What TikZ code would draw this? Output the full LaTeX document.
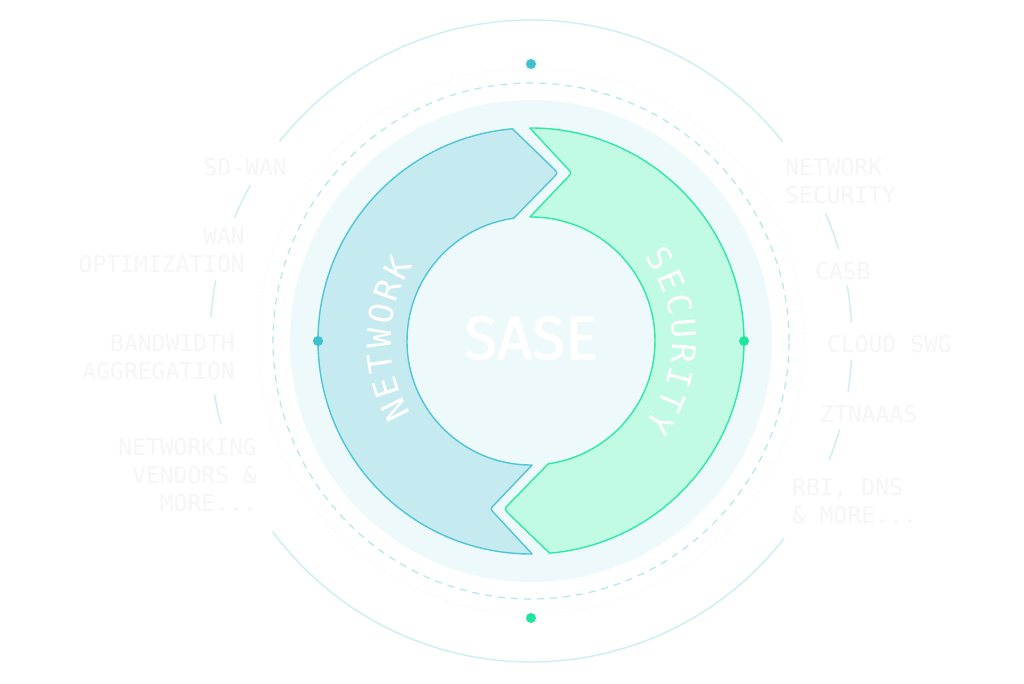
\documentclass[tikz,border=0pt]{standalone}
\usepackage{fontspec}
\newfontfamily\monofont{DejaVu Sans Mono}
\newfontfamily\sasefont[FakeBold=1.6]{Fira Sans}
\usetikzlibrary{calc}

\definecolor{ringline}{HTML}{CBEFF2}
\definecolor{dashline}{HTML}{B4E7EC}
\definecolor{discfill}{HTML}{EDF9FA}
\definecolor{netfill}{HTML}{C5EBF0}
\definecolor{netline}{HTML}{4EC6D6}
\definecolor{secfill}{HTML}{C2FBE4}
\definecolor{secline}{HTML}{2CE9A6}
\definecolor{netdot}{HTML}{3BC1D1}
\definecolor{secdot}{HTML}{1EE69F}
\definecolor{labelgray}{HTML}{F6F6F6}

\begin{document}
\begin{tikzpicture}[x=1pt,y=1pt]
\tikzset{
% text styles: faint side labels and letters on the ring
side label/.style={inner sep=0,text=labelgray,font=\monofont\fontsize{23}{28}\selectfont},
ring letter/.style={inner sep=0,text=white,font=\monofont\fontsize{33}{33}\selectfont},
% small coloured markers
dot node/.style={circle,inner sep=0,minimum size=10},
piece/.style={line width=1.4,line join=round}
}

% canvas
\useasboundingbox (-531,-342) rectangle (493,341);
\fill[white] (-531,-342) rectangle (493,341);

% outer thin circle, broken where the labels sit
\foreach \s/\e in {38.4/141.6,151/157.5,169/175.7,189.6/195,216.4/322,338.3/344,350.9/356.6,363.4/370,376.6/383.4}
  \draw[ringline,line width=1.4] (\s:321) arc[start angle=\s,end angle=\e,radius=321];

% dotted and dashed guide circles
\draw[black!4,line width=1,dash pattern=on 1pt off 3pt] (0,0) circle[radius=273];
\draw[dashline,line width=1.2,dash pattern=on 7pt off 6pt] (0,0) circle[radius=258];

% pale disc behind the ring
\fill[discfill] (0,0) circle[radius=241];

% the two arrow pieces (security = network turned half a turn)
\foreach \r/\f/\c in {0/netfill/netline,180/secfill/secline}{
\begin{scope}[rotate=\r]
\draw[piece,fill=\f,draw=\c] (95:213) arc[start angle=95,end angle=270.3,radius=213]
  -- (-36,-173) .. controls (-41,-168) .. (-36,-163)
  -- (270.5:124) arc[start angle=270.5,end angle=98,radius=124]
  -- (22,163) .. controls (27,168) .. (22,173) -- cycle;
\end{scope}
}

% centre word
\node[inner sep=0,text=white,font=\sasefont\fontsize{61}{61}\selectfont] (sase) at (0,3) {SASE};

% letters along the ring
\foreach \ch [count=\i] in {N,E,T,W,O,R,K}{
  \pgfmathsetmacro\ang{207-(\i-1)*9.3}
  \node[ring letter,rotate=\ang-90] (net-\i) at (\ang:152) {\ch};
}
\foreach \ch [count=\i] in {S,E,C,U,R,I,T,Y}{
  \pgfmathsetmacro\ang{32.5-(\i-1)*9.3}
  \node[ring letter,rotate=\ang-90] (sec-\i) at (\ang:153) {\ch};
}

% labels on the left
\node[side label,anchor=north east,align=right] (sdwan) at (-244,183) {SD-WAN};
\node[side label,anchor=north east,align=right] (wanopt) at (-286,113) {WAN\\OPTIMIZATION};
\node[side label,anchor=north east,align=right] (bandwidth) at (-296,6) {BANDWIDTH\\AGGREGATION};
\node[side label,anchor=north east,align=right] (vendors) at (-274,-97) {NETWORKING\\VENDORS \&\\MORE...};
% labels on the right
\node[side label,anchor=north west,align=left] (netsec) at (254,183) {NETWORK\\SECURITY};
\node[side label,anchor=north west,align=left] (casb) at (284,79) {CASB};
\node[side label,anchor=north west,align=left] (swg) at (296,6) {CLOUD SWG};
\node[side label,anchor=north west,align=left] (ztna) at (289,-64) {ZTNAAAS};
\node[side label,anchor=north west,align=left] (rbi) at (261,-137) {RBI, DNS\\\& MORE...};

% markers
\node[dot node,fill=netdot] (dot-top) at (0,277) {};
\node[dot node,fill=netdot] (dot-left) at (-213,0) {};
\node[dot node,fill=secdot] (dot-right) at (213,0) {};
\node[dot node,fill=secdot] (dot-bottom) at (0,-277) {};
\end{tikzpicture}
\end{document}
